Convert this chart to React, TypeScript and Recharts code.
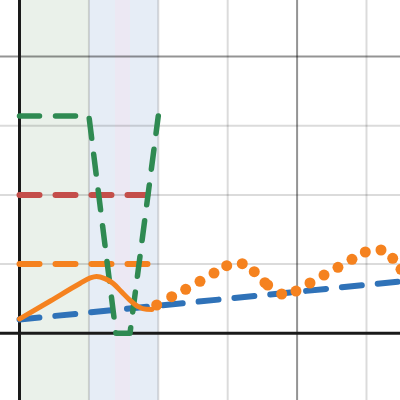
import React from "react";
import {
  ComposedChart,
  Line,
  XAxis,
  YAxis,
  ReferenceLine,
  ReferenceArea,
} from "recharts";

// Domain (graph-paper style view)
const xDomain: [number, number] = [-0.281, 5.483];
const yDomain: [number, number] = [-0.964, 4.817];

// Grid positions
const minorX = [1, 2, 3, 5];
const majorX = [4];
const minorY = [1, 2, 3];
const majorY = [4];

// Shaded bands
const greenBand = [0, 1];
const blueBand = [1, 2];
const pinkBand = [1.376, 1.592];

// Series
const blueLine = [
  { x: 0, y: 0.2 },
  { x: 5.6, y: 0.76 },
];
const orangeDashed = [
  { x: 0, y: 1 },
  { x: 2, y: 1 },
];
const redDashed = [
  { x: 0, y: 2 },
  { x: 2, y: 2 },
];
const greenDashed = [
  { x: 0, y: 3.1416 },
  { x: 1, y: 3.1416 },
  { x: 1.39, y: 0 },
  { x: 1.592, y: 0 },
  { x: 2, y: 3.1416 },
];
const orangeSolid = [
  { x: 0, y: 0.207 },
  { x: 0.45, y: 0.47 },
  { x: 0.87, y: 0.72 },
  { x: 1.02, y: 0.8 },
  { x: 1.11, y: 0.82 },
  { x: 1.23, y: 0.79 },
  { x: 1.35, y: 0.72 },
  { x: 1.47, y: 0.6 },
  { x: 1.59, y: 0.48 },
  { x: 1.71, y: 0.385 },
  { x: 1.83, y: 0.347 },
  { x: 1.91, y: 0.345 },
];
const orangeDots = [
  { x: 1.977, y: 0.409 },
  { x: 2.193, y: 0.529 },
  { x: 2.395, y: 0.636 },
  { x: 2.601, y: 0.751 },
  { x: 2.803, y: 0.871 },
  { x: 2.986, y: 0.977 },
  { x: 3.21, y: 1.006 },
  { x: 3.383, y: 0.89 },
  { x: 3.537, y: 0.731 },
  { x: 3.576, y: 0.698 },
  { x: 3.778, y: 0.568 },
  { x: 3.984, y: 0.611 },
  { x: 4.186, y: 0.727 },
  { x: 4.388, y: 0.842 },
  { x: 4.589, y: 0.954 },
  { x: 4.791, y: 1.069 },
  { x: 4.983, y: 1.175 },
  { x: 5.209, y: 1.204 },
  { x: 5.378, y: 1.084 },
  { x: 5.497, y: 0.925 },
];

const BLUE = "#2f72b8";
const ORANGE = "#f5821f";
const RED = "#c44e4a";
const GREEN = "#2f8a52";

export default function App() {
  return (
    <div style={{ position: "absolute", left: 0, top: 0, width: 400, height: 400, background: "#fff" }}>
      <ComposedChart width={400} height={400} margin={{ top: 0, right: 0, bottom: 0, left: 0 }}>
        <XAxis type="number" dataKey="x" hide domain={xDomain} allowDataOverflow />
        <YAxis type="number" dataKey="y" hide domain={yDomain} allowDataOverflow />

        <ReferenceArea x1={greenBand[0]} x2={greenBand[1]} y1={yDomain[0]} y2={yDomain[1]} fill="#eaf1ea" fillOpacity={1} stroke="none" ifOverflow="hidden" />
        <ReferenceArea x1={blueBand[0]} x2={blueBand[1]} y1={yDomain[0]} y2={yDomain[1]} fill="#e6edf6" fillOpacity={1} stroke="none" ifOverflow="hidden" />
        <ReferenceArea x1={pinkBand[0]} x2={pinkBand[1]} y1={yDomain[0]} y2={yDomain[1]} fill="#ece8f3" fillOpacity={1} stroke="none" ifOverflow="hidden" />

        {minorX.map((v) => (
          <ReferenceLine key={"mx" + v} x={v} stroke="#000" strokeOpacity={0.14} strokeWidth={2} />
        ))}
        {majorX.map((v) => (
          <ReferenceLine key={"Mx" + v} x={v} stroke="#000" strokeOpacity={0.42} strokeWidth={2} />
        ))}
        {minorY.map((v) => (
          <ReferenceLine key={"my" + v} y={v} stroke="#000" strokeOpacity={0.14} strokeWidth={2} />
        ))}
        {majorY.map((v) => (
          <ReferenceLine key={"My" + v} y={v} stroke="#000" strokeOpacity={0.42} strokeWidth={2} />
        ))}
        <ReferenceLine x={0} stroke="#1a1a1a" strokeWidth={3} />
        <ReferenceLine y={0} stroke="#1a1a1a" strokeWidth={3} />

        <Line data={blueLine} dataKey="y" type="linear" stroke={BLUE} strokeWidth={6} strokeDasharray="20 16" strokeLinecap="round" dot={false} activeDot={false} isAnimationActive={false} />
        <Line data={orangeDashed} dataKey="y" type="linear" stroke={ORANGE} strokeWidth={6} strokeDasharray="20 16" strokeLinecap="round" dot={false} activeDot={false} isAnimationActive={false} />
        <Line data={redDashed} dataKey="y" type="linear" stroke={RED} strokeWidth={6} strokeDasharray="20 16" strokeLinecap="round" dot={false} activeDot={false} isAnimationActive={false} />
        <Line data={greenDashed} dataKey="y" type="linear" stroke={GREEN} strokeWidth={5.5} strokeDasharray="20 16" strokeLinecap="round" strokeLinejoin="round" dot={false} activeDot={false} isAnimationActive={false} />
        <Line data={orangeSolid} dataKey="y" type="monotone" stroke={ORANGE} strokeWidth={5} strokeLinecap="round" dot={false} activeDot={false} isAnimationActive={false} />
        <Line data={orangeDots} dataKey="y" type="linear" stroke="none" dot={{ r: 5.5, fill: ORANGE, stroke: "none", strokeWidth: 0 }} activeDot={false} isAnimationActive={false} />
      </ComposedChart>
    </div>
  );
}
